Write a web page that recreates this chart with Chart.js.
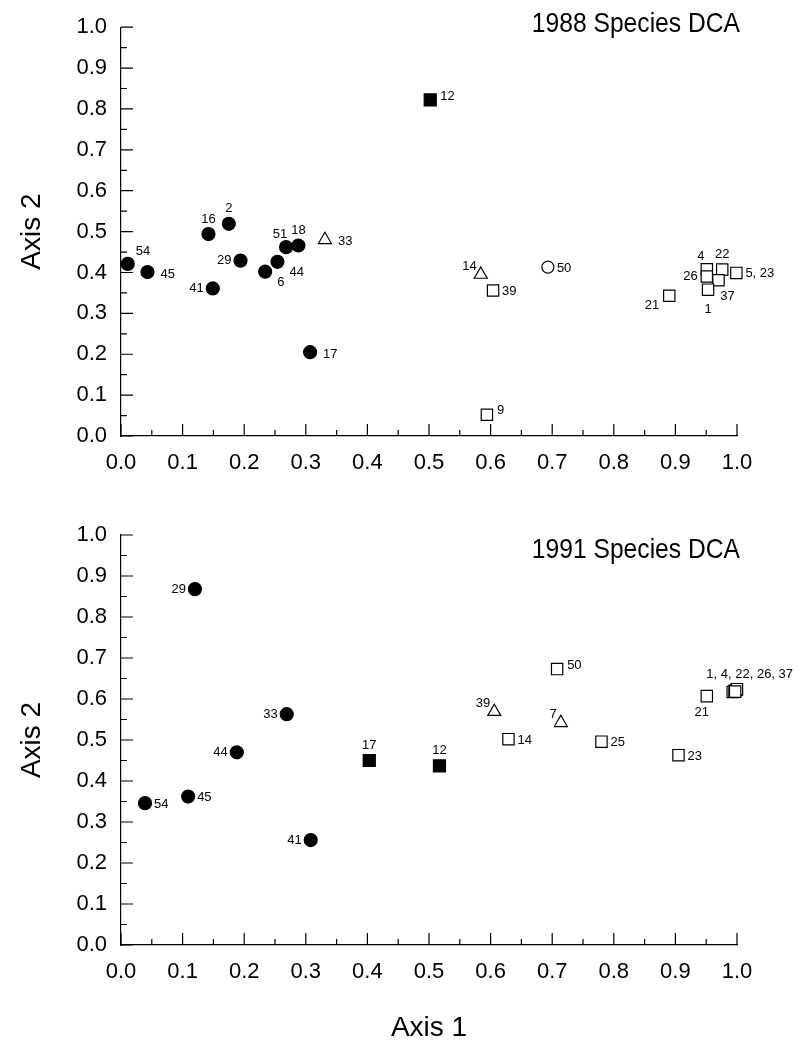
<!DOCTYPE html>
<html>
<head>
<meta charset="utf-8">
<script src="https://cdn.jsdelivr.net/npm/chart.js@4.4.1/dist/chart.umd.min.js"></script>
<style>
  html, body { margin: 0; padding: 0; background: #fff; }
  canvas { display: block; }
</style>
</head>
<body>
<canvas id="dca1988" width="801" height="480"></canvas>
<canvas id="dca1991" width="801" height="562"></canvas>
<script>
// axis ticks shared by both panels
const tickValues = [0, 0.1, 0.2, 0.3, 0.4, 0.5, 0.6, 0.7, 0.8, 0.9, 1.0];
const tickLabels = ['0.0', '0.1', '0.2', '0.3', '0.4', '0.5', '0.6', '0.7', '0.8', '0.9', '1.0'];
const minorTicks = [0.05, 0.15, 0.25, 0.35, 0.45, 0.55, 0.65, 0.75, 0.85, 0.95];

// 1988 species DCA
const species1988 = ['54', '45', '16', '2', '29', '41', '6', '44', '51', '18', '17', '33',
  '12', '14', '39', '9', '50', '4', '26', '22', '5, 23', '37', '1', '21'];
const axis1_1988 = [0.011, 0.043, 0.142, 0.175, 0.194, 0.149, 0.234, 0.254, 0.268, 0.288, 0.307, 0.331,
  0.502, 0.584, 0.604, 0.594, 0.693, 0.951, 0.951, 0.976, 0.999, 0.970, 0.953, 0.890];
const axis2_1988 = [0.421, 0.401, 0.494, 0.519, 0.429, 0.361, 0.402, 0.426, 0.462, 0.466, 0.205, 0.480,
  0.822, 0.395, 0.356, 0.052, 0.413, 0.408, 0.390, 0.407, 0.399, 0.381, 0.358, 0.343];
const group1988 = ['dot', 'dot', 'dot', 'dot', 'dot', 'dot', 'dot', 'dot', 'dot', 'dot', 'dot', 'tri',
  'solidBox', 'tri', 'box', 'box', 'ring', 'box', 'box', 'box', 'box', 'box', 'box', 'box'];
const place1988 = ['upRight', 'farRight', 'above', 'above', 'left', 'left', 'downRight', 'downRight',
  'aboveLeft', 'above', 'farRight', 'farRight', 'highRight', 'upLeft', 'right', 'highRight', 'right',
  'aboveLeft', 'left', 'above', 'right', 'belowRight', 'below', 'downLeft'];

// 1991 species DCA (1, 4, 22, 26, 37 share one tag)
const species1991 = ['29', '33', '44', '54', '45', '41', '17', '12', '39', '7', '14', '50', '25', '23', '21',
  '1, 4, 22, 26, 37', '', '', '', ''];
const axis1_1991 = [0.120, 0.269, 0.188, 0.039, 0.109, 0.308, 0.403, 0.517, 0.606, 0.714, 0.629, 0.708,
  0.780, 0.905, 0.951, 0.993, 0.996, 0.999, 1.000, 0.997];
const axis2_1991 = [0.868, 0.563, 0.470, 0.346, 0.362, 0.256, 0.450, 0.437, 0.569, 0.542, 0.502, 0.673,
  0.496, 0.463, 0.607, 0.617, 0.620, 0.622, 0.624, 0.618];
const group1991 = ['dot', 'dot', 'dot', 'dot', 'dot', 'dot', 'solidBox', 'solidBox', 'tri', 'tri', 'box', 'box',
  'box', 'box', 'box', 'box', 'box', 'box', 'box', 'box'];
const place1991 = ['left', 'left', 'left', 'right', 'right', 'left', 'above', 'above', 'upLeft', 'upLeft',
  'right', 'highRight', 'right', 'right', 'belowLeft', 'aboveRight', 'right', 'right', 'right', 'right'];

const FONT = "'Liberation Sans', Arial, sans-serif";

const markers = {
  dot: { style: 'circle', r: 6.5, fill: '#000' },
  ring: { style: 'circle', r: 6, fill: '#fff' },
  box: { style: 'rect', r: 8, fill: '#fff' },
  solidBox: { style: 'rect', r: 8.5, fill: '#000' },
  tri: { style: 'triangle', r: 7.5, fill: '#fff' }
};

// where a point's tag sits relative to the marker
const spots = {
  right: { dx: 9, dy: 1, align: 'left' },
  farRight: { dx: 13, dy: 2, align: 'left' },
  highRight: { dx: 10, dy: -4, align: 'left' },
  left: { dx: -9, dy: 0, align: 'right' },
  above: { dx: 0, dy: -15, align: 'center' },
  aboveLeft: { dx: -6, dy: -13, align: 'center' },
  aboveRight: { dx: 17, dy: -18, align: 'center' },
  below: { dx: 0, dy: 20, align: 'center' },
  belowLeft: { dx: -5, dy: 16, align: 'center' },
  belowRight: { dx: 9, dy: 16, align: 'center' },
  upRight: { dx: 8, dy: -12, align: 'left' },
  upLeft: { dx: -4, dy: -8, align: 'right' },
  downRight: { dx: 12, dy: 11, align: 'left' },
  downLeft: { dx: -10, dy: 10, align: 'right' }
};

const dcaDecor = {
  id: 'dcaDecor',
  afterDatasetsDraw(chart, args, opts) {
    const { ctx, chartArea } = chart;
    const xs = chart.scales.x;
    const ys = chart.scales.y;
    ctx.save();

    // inward tick marks
    ctx.strokeStyle = '#000';
    ctx.lineWidth = 1.2;
    const marks = tickValues.map(v => [v, 12]).concat(minorTicks.map(v => [v, 6]));
    marks.forEach(([v, len]) => {
      const px = xs.getPixelForValue(v);
      const py = ys.getPixelForValue(v);
      ctx.beginPath();
      ctx.moveTo(px, chartArea.bottom);
      ctx.lineTo(px, chartArea.bottom - len);
      ctx.moveTo(chartArea.left, py);
      ctx.lineTo(chartArea.left + len, py);
      ctx.stroke();
    });

    // point tags
    ctx.fillStyle = '#000';
    ctx.font = '13px ' + FONT;
    ctx.textBaseline = 'middle';
    const meta = chart.getDatasetMeta(0);
    meta.data.forEach((pt, i) => {
      const text = opts.tags[i];
      if (!text) return;
      const s = spots[opts.places[i]];
      ctx.textAlign = s.align;
      ctx.fillText(text, pt.x + s.dx, pt.y + s.dy);
    });

    // panel title, slightly condensed like the original type
    ctx.font = '28px ' + FONT;
    ctx.textAlign = 'right';
    ctx.translate(chartArea.right + 3, chartArea.top + opts.titleDy);
    ctx.scale(0.88, 1);
    ctx.fillText(opts.title, 0, 0);
    ctx.restore();
  }
};

function scaleOpts(axis, fitSize, title) {
  return {
    type: 'linear',
    min: 0,
    max: 1,
    afterBuildTicks: s => { s.ticks = tickValues.map(value => ({ value })); },
    afterFit: s => {
      if (axis === 'x') s.height = fitSize; else s.width = fitSize;
    },
    grid: { display: true, drawOnChartArea: false, drawTicks: false },
    border: { display: true, color: '#000', width: 1.2 },
    ticks: {
      padding: 14,
      color: '#000',
      font: { family: FONT, size: 22 },
      callback: (v, i) => tickLabels[i]
    },
    title: title ? {
      display: true,
      text: title,
      color: '#000',
      font: { family: FONT, size: 28, lineHeight: 1 },
      padding: axis === 'x' ? { top: 0, bottom: 0 } : { top: 18, bottom: 0 }
    } : { display: false }
  };
}

function makeChart(id, x, y, groups, tags, places, title, titleDy, pad, xHeight, xTitle) {
  return new Chart(document.getElementById(id), {
    type: 'scatter',
    data: {
      datasets: [{
        data: x.map((v, i) => ({ x: v, y: y[i] })),
        pointStyle: groups.map(g => markers[g].style),
        pointRadius: groups.map(g => markers[g].r),
        backgroundColor: groups.map(g => markers[g].fill),
        borderColor: '#000',
        borderWidth: 1.2,
        clip: false
      }]
    },
    options: {
      responsive: false,
      animation: false,
      events: [],
      layout: { padding: pad },
      scales: {
        x: scaleOpts('x', xHeight, xTitle),
        y: scaleOpts('y', 121, 'Axis 2')
      },
      plugins: {
        legend: { display: false },
        tooltip: { enabled: false },
        dcaDecor: { tags, places, title, titleDy }
      }
    },
    plugins: [dcaDecor]
  });
}

makeChart('dca1988', axis1_1988, axis2_1988, group1988, species1988, place1988,
  '1988 Species DCA', -3, { left: 0, top: 26, right: 64, bottom: 0 }, 44, null);

makeChart('dca1991', axis1_1991, axis2_1991, group1991, species1991, place1991,
  '1991 Species DCA', 15, { left: 0, top: 55, right: 64, bottom: 0 }, 97, 'Axis 1');
</script>
</body>
</html>
